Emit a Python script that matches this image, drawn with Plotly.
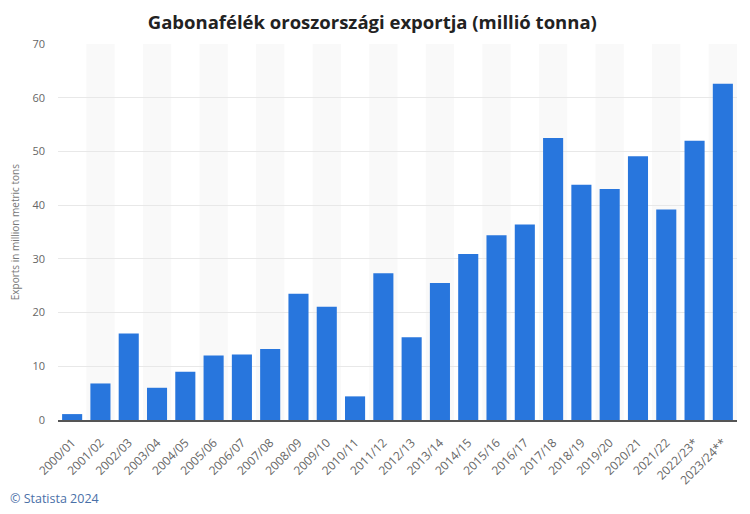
import plotly.graph_objects as go

seasons = ["2000/01", "2001/02", "2002/03", "2003/04", "2004/05", "2005/06", "2006/07",
           "2007/08", "2008/09", "2009/10", "2010/11", "2011/12", "2012/13", "2013/14",
           "2014/15", "2015/16", "2016/17", "2017/18", "2018/19", "2019/20", "2020/21",
           "2021/22", "2022/23*", "2023/24**"]
exports = [1.1, 6.8, 16.1, 6.0, 9.0, 12.0, 12.2, 13.2, 23.5, 21.1, 4.4, 27.3, 15.4,
           25.5, 30.9, 34.4, 36.4, 52.5, 43.8, 43.0, 49.1, 39.2, 52.0, 62.6]
y_ticks = [0, 10, 20, 30, 40, 50, 60, 70]

fig = go.Figure()
fig.add_trace(go.Bar(x=list(range(len(seasons))), y=exports, marker_color="#2876dd",
                     marker_line_width=0, hoverinfo="x+y"))

shapes = []
for i in range(len(seasons)):
    if i % 2 == 1:
        shapes.append(dict(type="rect", xref="x", yref="paper", x0=i - 0.5, x1=i + 0.5,
                           y0=0, y1=1, fillcolor="#f9f9f9", line_width=0, layer="below"))

fig.update_layout(
    width=742, height=506,
    margin=dict(l=50, r=13, t=36, b=94, autoexpand=False),
    paper_bgcolor="white", plot_bgcolor="white",
    showlegend=False,
    bargap=0.29,
    shapes=shapes,
    title=dict(text="<b>Gabonafélék oroszországi exportja (millió tonna)</b>",
               x=0.491, xanchor="center", y=0.972, yanchor="middle",
               font=dict(family="Open Sans", size=18.5, color="#222222")),
    font=dict(family="Open Sans", color="#666666"),
    xaxis=dict(tickmode="array", tickvals=list(range(len(seasons))), ticktext=seasons,
               tickangle=-45, tickfont=dict(size=12, color="#666666"),
               ticklabelstandoff=9,
               range=[-0.5, len(seasons) - 0.5], showgrid=False, automargin=False,
               showline=True, linecolor="#555555", linewidth=2, ticks=""),
    yaxis=dict(range=[0, 70], tickvals=y_ticks, tickfont=dict(size=11, color="#666666"),
               showgrid=True, gridcolor="#e8e8e8", gridwidth=1, zeroline=False,
               ticklabelstandoff=12, showline=False, automargin=False),
    annotations=[
        dict(text="Exports in million metric tons", xref="paper", yref="paper",
             x=-0.063, y=0.5, xanchor="center", yanchor="middle", textangle=-90,
             showarrow=False, font=dict(size=10, color="#777777")),
        dict(text="© Statista 2024", xref="paper", yref="paper", x=-0.0736, y=-0.210,
             xanchor="left", yanchor="middle", showarrow=False,
             font=dict(size=12.5, color="#4a70a8")),
    ],
)

fig.write_html("out.html")
